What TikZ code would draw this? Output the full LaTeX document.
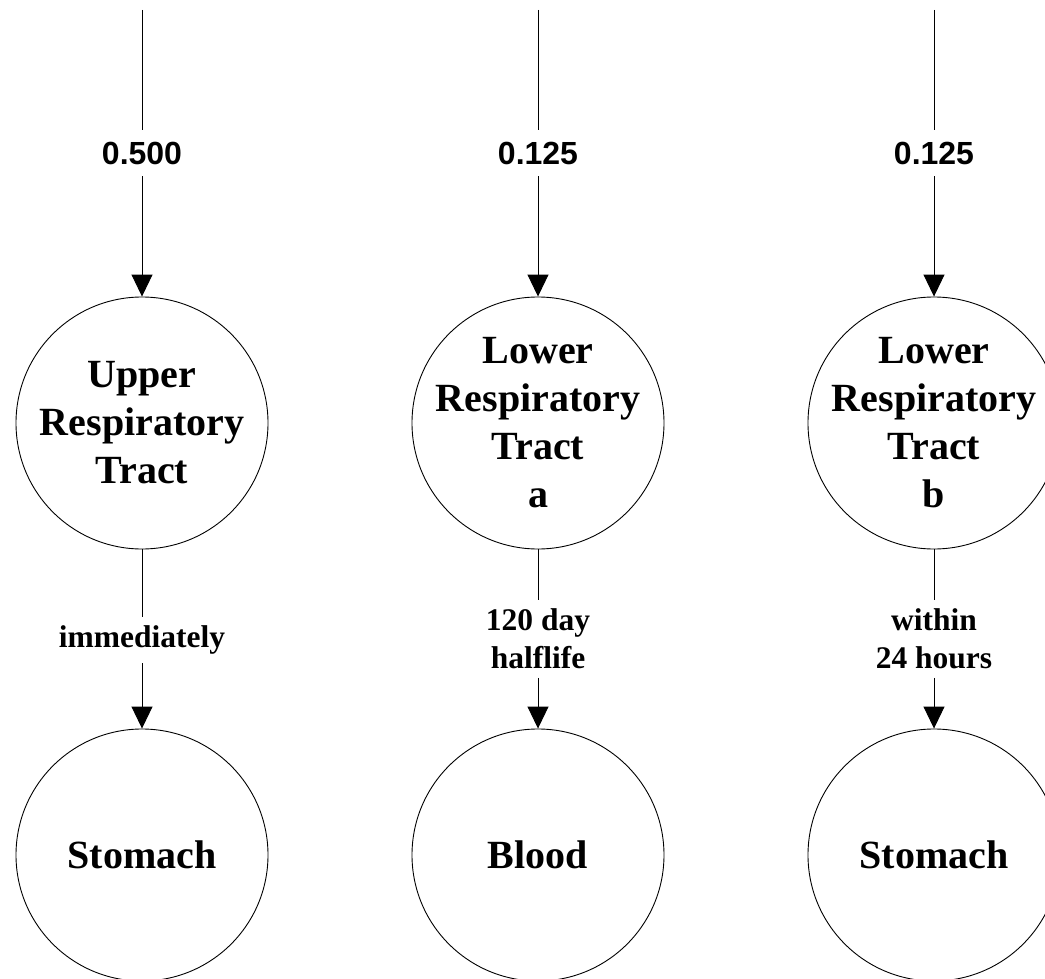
\documentclass[tikz,border=0pt]{standalone}
\usepackage{fontspec}
\setmainfont{Liberation Serif}
\newfontfamily\arialfont{Liberation Sans}
\usetikzlibrary{arrows.meta}
\begin{document}
\begin{tikzpicture}[x=1pt,y=-1pt,
  comp/.style={circle,draw,line width=0.9pt,minimum size=252pt,inner sep=0pt},
  comptext/.style={inner sep=0pt,align=center,font=\fontsize{40}{48}\selectfont\bfseries},
  link/.style={draw,line width=0.9pt},
  flow/.style={draw,line width=0.9pt,-{Triangle[length=22pt,width=21pt]}},
  toplbl/.style={font=\arialfont\fontsize{32}{38}\selectfont\bfseries,inner xsep=2pt,inner ysep=11.5pt},
  midlbl/.style={font=\fontsize{31.5}{38}\selectfont\bfseries,align=center,inner xsep=2pt,inner ysep=8.5pt}]
\clip (0,0) rectangle (1045,979);
% top circles
\node[comp] (u1) at (142,423) {};
\node[comp] (u2) at (538,423) {};
\node[comp] (u3) at (934,423) {};
\node[comptext] (u1t) at (u1) {Upper\\Respiratory\\Tract};
\node[comptext] (u2t) at (u2) {Lower\\Respiratory\\Tract\\a};
\node[comptext] (u3t) at (u3) {Lower\\Respiratory\\Tract\\b};
% bottom circles
\node[comp] (b1) at (142,855) {};
\node[comp] (b2) at (538,855) {};
\node[comp] (b3) at (934,855) {};
\node[comptext] (b1t) at (b1) {Stomach};
\node[comptext] (b2t) at (b2) {Blood};
\node[comptext] (b3t) at (b3) {Stomach};
% top free ends
\coordinate (t1) at (142,10);
\coordinate (t2) at (538,10);
\coordinate (t3) at (934,10);
% top labels
\node[toplbl] (l1) at (142,153) {0.500};
\node[toplbl] (l2) at (538,153) {0.125};
\node[toplbl] (l3) at (934,153) {0.125};
% middle labels
\node[midlbl] (m1) at (142,640) {immediately};
\node[midlbl] (m2) at (538,639) {120 day\\halflife};
\node[midlbl] (m3) at (934,639) {within\\24 hours};
% connectors
\draw[link] (t1) -- (l1);
\draw[flow] (l1) -- (u1);
\draw[link] (t2) -- (l2);
\draw[flow] (l2) -- (u2);
\draw[link] (t3) -- (l3);
\draw[flow] (l3) -- (u3);
\draw[link] (u1) -- (m1);
\draw[flow] (m1) -- (b1);
\draw[link] (u2) -- (m2);
\draw[flow] (m2) -- (b2);
\draw[link] (u3) -- (m3);
\draw[flow] (m3) -- (b3);
\end{tikzpicture}
\end{document}
